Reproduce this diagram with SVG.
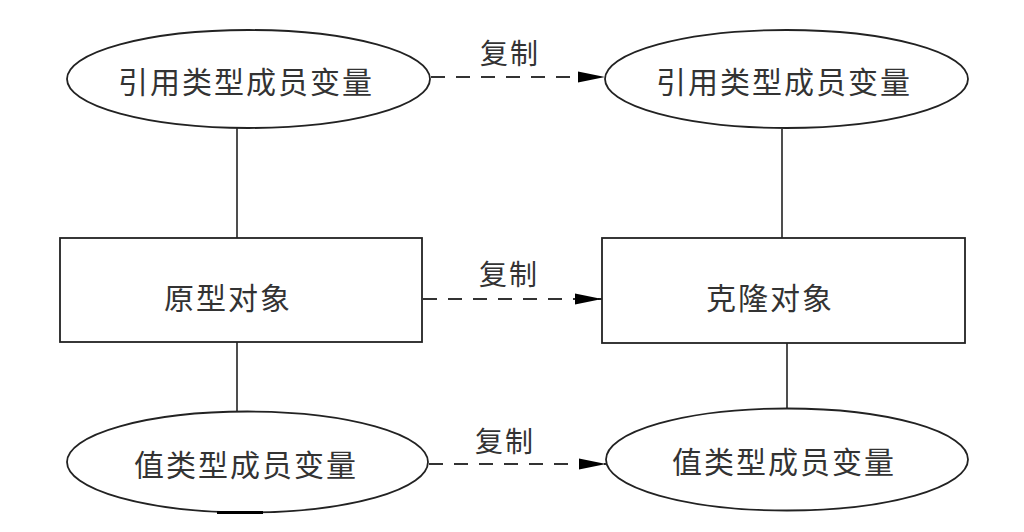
<svg xmlns="http://www.w3.org/2000/svg" width="1024" height="532" viewBox="0 0 1024 532">
<defs>
<style>
.shape{fill:#fff;stroke:#222;stroke-width:1.8}
.line{fill:none;stroke:#222;stroke-width:1.6}
.dash{fill:none;stroke:#333;stroke-width:1.8;stroke-dasharray:14 11}
.t{font-family:"Noto Sans CJK SC","Noto Sans",sans-serif;font-size:30px;fill:#333;text-anchor:middle;dominant-baseline:central;letter-spacing:2px}
.lbl{font-family:"Noto Sans CJK SC","Noto Sans",sans-serif;font-size:28px;fill:#333;text-anchor:middle;dominant-baseline:central;letter-spacing:2px}
</style>
<marker id="arr" markerUnits="userSpaceOnUse" markerWidth="30" markerHeight="14" refX="27" refY="6" orient="auto">
<path d="M0,0.5 L27,6 L0,11.5 Z" fill="#000"/>
</marker>
</defs>
<rect width="1024" height="532" fill="#fff"/>
<g id="connectors">
<line class="line" x1="237" y1="128" x2="237" y2="238"/>
<line class="line" x1="237" y1="342" x2="237" y2="412"/>
<line class="line" x1="782" y1="129" x2="782" y2="238"/>
<line class="line" x1="787" y1="343" x2="787" y2="409"/>
<line class="dash" x1="431" y1="77" x2="605" y2="77" marker-end="url(#arr)"/>
<line class="dash" x1="423" y1="299" x2="602" y2="299" marker-end="url(#arr)"/>
<line class="dash" x1="429" y1="464" x2="606" y2="464" marker-end="url(#arr)"/>
<text class="lbl" x="510" y="52">复制</text>
<text class="lbl" x="509" y="273">复制</text>
<text class="lbl" x="505" y="440">复制</text>
</g>
<g id="ref-orig">
<ellipse class="shape" cx="248.5" cy="79" rx="181.5" ry="49"/>
<text class="t" x="246" y="80">引用类型成员变量</text>
</g>
<g id="ref-clone">
<ellipse class="shape" cx="786.5" cy="79" rx="181.5" ry="49"/>
<text class="t" x="784" y="80">引用类型成员变量</text>
</g>
<g id="prototype">
<rect class="shape" x="60" y="238" width="362" height="104"/>
<text class="t" x="228" y="296">原型对象</text>
</g>
<g id="clone">
<rect class="shape" x="602" y="238" width="363" height="105"/>
<text class="t" x="770" y="296">克隆对象</text>
</g>
<g id="val-orig">
<ellipse class="shape" cx="247.5" cy="462" rx="180.5" ry="50.5"/>
<line x1="217" y1="512.5" x2="263" y2="512.5" stroke="#000" stroke-width="3"/>
<text class="t" x="246" y="463">值类型成员变量</text>
</g>
<g id="val-clone">
<ellipse class="shape" cx="787" cy="459.5" rx="181" ry="51"/>
<text class="t" x="784" y="460">值类型成员变量</text>
</g>
</svg>
